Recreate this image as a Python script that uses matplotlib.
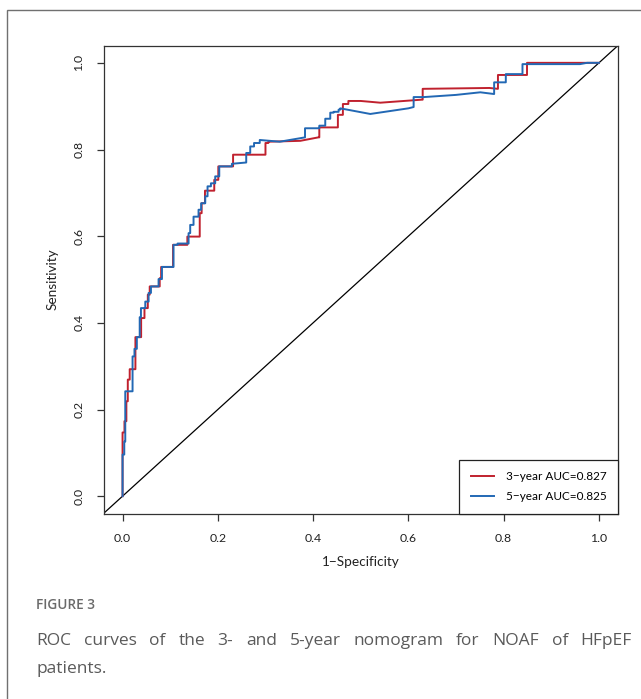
import matplotlib
matplotlib.use("Agg")
import matplotlib.pyplot as plt
from matplotlib.patches import Rectangle

# ---------------- data ----------------
fpr_3yr = [0.000, 0.000, 0.004, 0.004, 0.008, 0.008, 0.011, 0.011, 0.015, 0.015, 0.027, 0.027,
           0.039, 0.039, 0.046, 0.046, 0.053, 0.053, 0.057, 0.057, 0.078, 0.078, 0.081, 0.081,
           0.106, 0.106, 0.136, 0.136, 0.162, 0.162, 0.166, 0.166, 0.173, 0.173, 0.1925, 0.1925,
           0.201, 0.201, 0.232, 0.232, 0.300, 0.300, 0.306, 0.306, 0.340, 0.373, 0.411, 0.413,
           0.413, 0.452, 0.452, 0.4625, 0.4625, 0.474, 0.474, 0.500, 0.541, 0.628, 0.630, 0.630,
           0.700, 0.770, 0.788, 0.788, 0.849, 0.849, 1.000]
tpr_3yr = [0.000, 0.147, 0.147, 0.173, 0.173, 0.219, 0.219, 0.269, 0.269, 0.293, 0.293, 0.367,
           0.367, 0.411, 0.411, 0.434, 0.434, 0.465, 0.465, 0.484, 0.484, 0.503, 0.503, 0.529,
           0.529, 0.580, 0.580, 0.599, 0.599, 0.653, 0.653, 0.676, 0.676, 0.705, 0.705, 0.730,
           0.730, 0.761, 0.761, 0.788, 0.788, 0.815, 0.815, 0.818, 0.819, 0.820, 0.828, 0.828,
           0.851, 0.851, 0.880, 0.880, 0.905, 0.905, 0.912, 0.912, 0.908, 0.915, 0.915, 0.940,
           0.941, 0.942, 0.940, 0.972, 0.972, 1.000, 1.000]

fpr_5yr = [0.000, 0.000, 0.0036, 0.0036, 0.0057, 0.0057, 0.021, 0.021, 0.025, 0.025, 0.030, 0.030,
           0.036, 0.036, 0.0386, 0.0386, 0.0477, 0.0477, 0.0547, 0.0547, 0.0596, 0.0596, 0.0756, 0.0756,
           0.0827, 0.0827, 0.107, 0.107, 0.1155, 0.1155, 0.1386, 0.1386, 0.142, 0.142, 0.149, 0.149,
           0.1595, 0.1595, 0.165, 0.165, 0.1736, 0.1736, 0.1784, 0.1784, 0.1855, 0.1855, 0.1945, 0.1945,
           0.203, 0.203, 0.2295, 0.2295, 0.2596, 0.2596, 0.268, 0.268, 0.276, 0.276, 0.288, 0.288,
           0.330, 0.383, 0.383, 0.413, 0.413, 0.4255, 0.4255, 0.436, 0.436, 0.443, 0.443, 0.4535,
           0.4535, 0.457, 0.457, 0.520, 0.600, 0.611, 0.611, 0.633, 0.700, 0.751, 0.780, 0.780,
           0.8045, 0.8045, 0.8395, 0.8395, 0.960, 0.975, 1.000]
tpr_5yr = [0.000, 0.096, 0.096, 0.126, 0.126, 0.242, 0.242, 0.3225, 0.3225, 0.340, 0.340, 0.367,
           0.367, 0.413, 0.413, 0.434, 0.434, 0.449, 0.449, 0.469, 0.469, 0.484, 0.484, 0.501,
           0.501, 0.529, 0.529, 0.580, 0.580, 0.583, 0.583, 0.607, 0.607, 0.626, 0.626, 0.645,
           0.645, 0.661, 0.661, 0.676, 0.676, 0.692, 0.692, 0.715, 0.715, 0.722, 0.722, 0.738,
           0.738, 0.761, 0.761, 0.767, 0.770, 0.792, 0.792, 0.807, 0.807, 0.815, 0.815, 0.822,
           0.818, 0.828, 0.849, 0.849, 0.855, 0.855, 0.871, 0.871, 0.885, 0.885, 0.887, 0.887,
           0.892, 0.892, 0.895, 0.882, 0.895, 0.898, 0.921, 0.921, 0.926, 0.932, 0.928, 0.955,
           0.955, 0.974, 0.974, 0.997, 0.997, 1.000, 1.000]

series_labels = ["3\u2212year AUC=0.827", "5\u2212year AUC=0.825"]
x_ticks = [0.0, 0.2, 0.4, 0.6, 0.8, 1.0]
y_ticks = [0.0, 0.2, 0.4, 0.6, 0.8, 1.0]
x_label = "1\u2212Specificity"
y_label = "Sensitivity"
caption_title = "FIGURE 3"
caption_line1 = "ROC curves of the 3- and 5-year nomogram for NOAF of HFpEF"
caption_line2 = "patients."

# ---------------- figure ----------------
W, H = 641, 699
fig = plt.figure(figsize=(W / 100, H / 100), dpi=100)
plt.rcParams['font.family'] = ['Lato', 'DejaVu Sans']

# outer frame
fig.patches.append(Rectangle((7 / W, -0.1), 2.0, 1 - 10 / H + 0.1, transform=fig.transFigure,
                             fill=False, edgecolor='#707070', linewidth=1.0))

left, right, top, bottom = 103.5, 618, 45.5, 513.5
ax = fig.add_axes([left / W, 1 - bottom / H, (right - left) / W, (bottom - top) / H])

red = '#C0212E'
blue = '#2268B4'
ax.axline((0, 0), (1, 1), color='black', lw=0.9, zorder=1)
ax.plot(fpr_3yr, tpr_3yr, color=red, lw=1.4, label=series_labels[0], zorder=2)
ax.plot(fpr_5yr, tpr_5yr, color=blue, lw=1.4, label=series_labels[1], zorder=3)

ax.set_xlim(-0.04, 1.04)
ax.set_ylim(-0.04, 1.04)
ax.set_xticks(x_ticks)
ax.set_yticks(y_ticks)
ax.set_xticklabels([f"{v:.1f}" for v in x_ticks], fontsize=8.8)
ax.set_yticklabels([f"{v:.1f}" for v in y_ticks], fontsize=8.8, rotation=90, va='center')
ax.tick_params(axis='both', length=5.2, width=0.9, color='#333333', labelcolor='#222222')
ax.tick_params(axis='x', pad=8.5)
ax.tick_params(axis='y', pad=8.5)
for s in ax.spines.values():
    s.set_linewidth(0.9)
    s.set_edgecolor('#333333')

ax.set_xlabel(x_label, fontsize=9.8, color='#222222', labelpad=9)
ax.set_ylabel(y_label, fontsize=9.8, color='#222222', labelpad=11)

leg = ax.legend(loc='lower right', borderaxespad=0, fancybox=False, edgecolor='#222222',
                fontsize=8.5, handlelength=2.0, handletextpad=1.0, borderpad=0.95,
                labelspacing=0.75, framealpha=1)
leg.get_frame().set_linewidth(0.9)

# caption
fig.text(36 / W, 1 - 605 / H, caption_title, fontsize=9.8, color='#6a6a6a', fontweight='semibold',
         family=['Open Sans', 'DejaVu Sans'], va='center', ha='left')

# justified first caption line
fig.canvas.draw()
renderer = fig.canvas.get_renderer()
words = caption_line1.split(' ')
x0, x1 = 36, 632
tmp = []
total = 0
for w in words:
    t = fig.text(0, 0, w, fontsize=12.5, color='#5a5a5a', family=['Open Sans', 'DejaVu Sans'],
                 va='baseline', ha='left')
    bb = t.get_window_extent(renderer)
    tmp.append((t, bb.width))
    total += bb.width
gap = (x1 - x0 - total) / (len(words) - 1)
xc = x0
for t, wdt in tmp:
    t.set_position((xc / W, 1 - 645 / H))
    xc += wdt + gap
fig.text(36 / W, 1 - 673 / H, caption_line2, fontsize=12.5, color='#5a5a5a',
         family=['Open Sans', 'DejaVu Sans'], va='baseline', ha='left')

fig.savefig('out.png', dpi=100)
